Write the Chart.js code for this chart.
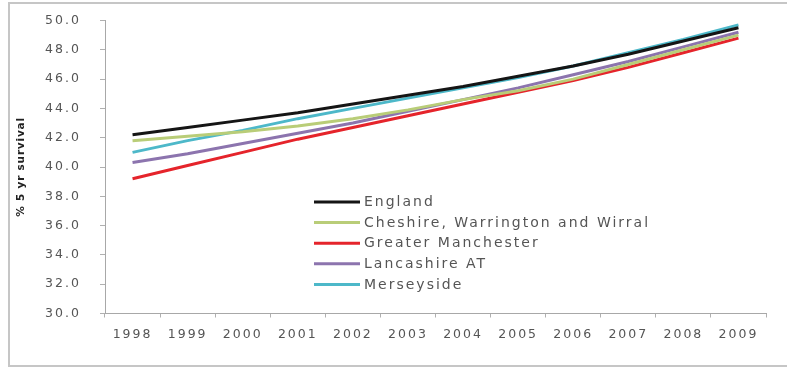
<!DOCTYPE html>
<html>
<head>
<meta charset="utf-8">
<script src="https://cdn.jsdelivr.net/npm/chart.js@4"></script>
<style>
  html, body { margin: 0; padding: 0; background: #fff; }
  #wrap { position: relative; width: 787px; height: 370px; overflow: hidden; }
  #frame { position: absolute; left: 8px; top: 2px; width: 800px; height: 365px;
           border: 2px solid #c6c6c6; box-sizing: border-box; }
  canvas { position: absolute; left: 0; top: 0; }
</style>
</head>
<body>
<div id="wrap">
  <div id="frame"></div>
  <canvas id="chart" width="787" height="370"></canvas>
</div>
<script>
// Five-year survival (%) by cancer network, 1998-2009
const years = ['1998', '1999', '2000', '2001', '2002', '2003', '2004', '2005', '2006', '2007', '2008', '2009'];

const england     = [42.2, 42.7, 43.2, 43.7, 44.3, 44.9, 45.5, 46.2, 46.9, 47.7, 48.6, 49.5];
const cheshire    = [41.8, 42.1, 42.4, 42.8, 43.3, 43.9, 44.6, 45.2, 46.0, 47.0, 48.0, 49.0];
const manchester  = [39.2, 40.1, 41.0, 41.9, 42.7, 43.5, 44.3, 45.1, 45.9, 46.8, 47.8, 48.8];
const lancashire  = [40.3, 40.9, 41.6, 42.3, 43.0, 43.8, 44.6, 45.4, 46.3, 47.2, 48.2, 49.2];
const merseyside  = [41.0, 41.8, 42.5, 43.3, 44.0, 44.7, 45.4, 46.1, 46.9, 47.8, 48.7, 49.7];

const seriesNames = ['England', 'Cheshire, Warrington and Wirral', 'Greater Manchester', 'Lancashire AT', 'Merseyside'];
const seriesData  = [england, cheshire, manchester, lancashire, merseyside];
const seriesColors = ['#151515', '#b9cd78', '#e5242b', '#8c74ae', '#4db8c9'];

const yTitle = '% 5 yr survival';
const yMin = 30, yMax = 50, yStep = 2;

const FONT = "'DejaVu Sans', 'Liberation Sans', sans-serif";
const TEXT_COLOR = '#555555';

// Slightly widened lettering for the axis labels
const spacingPlugin = {
  id: 'spacing',
  beforeDraw(chart) { chart.ctx.letterSpacing = '2px'; }
};

// Rotated value-axis title, centred on the plot height
const yTitlePlugin = {
  id: 'yTitle',
  afterDraw(chart) {
    const ctx = chart.ctx;
    const ca = chart.chartArea;
    ctx.save();
    ctx.letterSpacing = '0.8px';
    ctx.font = 'bold 10.5px ' + FONT;
    ctx.fillStyle = '#222222';
    ctx.translate(21, (ca.top + ca.bottom) / 2);
    ctx.rotate(-Math.PI / 2);
    ctx.textBaseline = 'middle';
    ctx.textAlign = 'left';
    const w = ctx.measureText(yTitle).width;
    ctx.fillText(yTitle, -w / 2, 0);
    ctx.restore();
  }
};

// Legend drawn inside the plot area as a column of line swatches
const insideLegend = {
  id: 'insideLegend',
  afterDraw(chart) {
    const ctx = chart.ctx;
    const x0 = chart.chartArea.left + 209;
    const y0 = chart.chartArea.top + 181.5;
    const rowH = 20.6;
    ctx.save();
    ctx.letterSpacing = '2px';
    ctx.font = '14px ' + FONT;
    ctx.textBaseline = 'middle';
    ctx.textAlign = 'left';
    chart.data.datasets.forEach((ds, i) => {
      const y = y0 + i * rowH;
      ctx.strokeStyle = ds.borderColor;
      ctx.lineWidth = 3;
      ctx.beginPath();
      ctx.moveTo(x0, y);
      ctx.lineTo(x0 + 46, y);
      ctx.stroke();
      ctx.fillStyle = TEXT_COLOR;
      ctx.fillText(ds.label, x0 + 50, y + 0.5);
    });
    ctx.restore();
  }
};

new Chart(document.getElementById('chart'), {
  type: 'line',
  data: {
    labels: years,
    datasets: seriesNames.map((name, i) => ({
      label: name,
      data: seriesData[i],
      borderColor: seriesColors[i],
      backgroundColor: seriesColors[i],
      borderWidth: 3,
      pointRadius: 0,
      tension: 0,
      fill: false
    }))
  },
  options: {
    responsive: false,
    devicePixelRatio: 1,
    animation: false,
    layout: { padding: { left: 45, right: 21, top: 20.5, bottom: 16.5 } },
    plugins: {
      legend: { display: false },
      tooltip: { enabled: false }
    },
    scales: {
      x: {
        offset: true,
        afterFit(scale) {
          scale.height = 40;
          scale.paddingLeft = 0;
          scale.paddingRight = 0;
        },
        grid: {
          offset: true,
          drawOnChartArea: false,
          drawTicks: true,
          tickLength: 4,
          color: '#b0b0b0'
        },
        border: { color: '#a8a8a8', width: 1 },
        ticks: {
          color: TEXT_COLOR,
          padding: 10,
          maxRotation: 0,
          autoSkip: false,
          font: { family: FONT, size: 12.5 }
        }
      },
      y: {
        min: yMin,
        max: yMax,
        afterFit(scale) {
          scale.width = 60;
          scale.paddingTop = 0;
          scale.paddingBottom = 0;
        },
        grid: {
          drawOnChartArea: false,
          drawTicks: true,
          tickLength: 5,
          color: '#b0b0b0'
        },
        border: { color: '#a8a8a8', width: 1 },
        ticks: {
          stepSize: yStep,
          crossAlign: 'far',
          color: TEXT_COLOR,
          font: { family: FONT, size: 12.5 },
          callback: v => Number(v).toFixed(1)
        }
      }
    }
  },
  plugins: [spacingPlugin, yTitlePlugin, insideLegend]
});
</script>
</body>
</html>
